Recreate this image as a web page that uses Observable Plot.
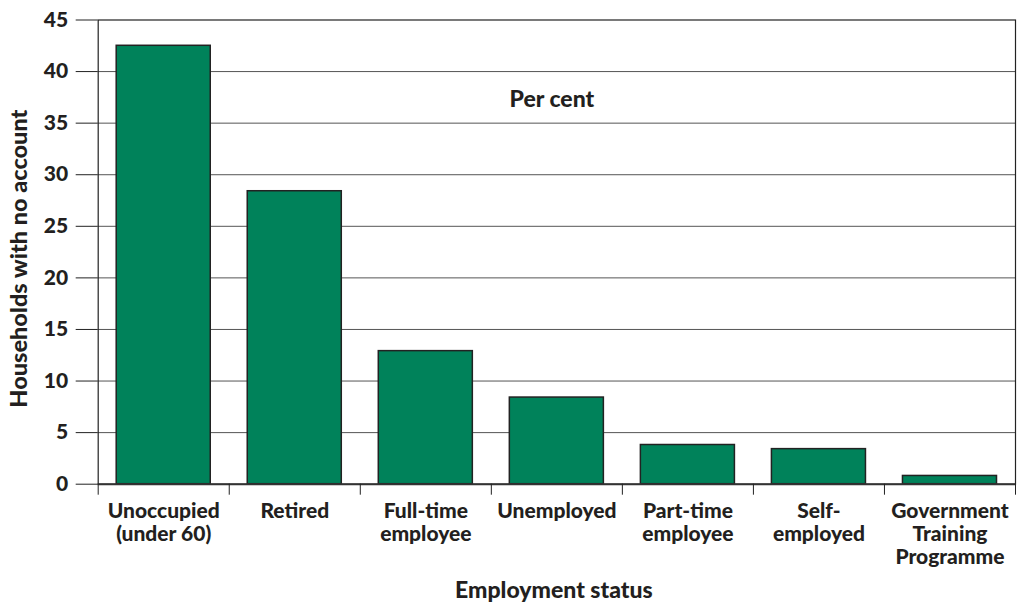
<!DOCTYPE html>
<html>
<head>
<meta charset="utf-8">
<script src="https://cdn.jsdelivr.net/npm/d3@7"></script>
<script src="https://cdn.jsdelivr.net/npm/@observablehq/plot@0.6"></script>
<style>
  html, body { margin: 0; padding: 0; background: #fff; }
  #chart svg { display: block; }
</style>
</head>
<body>
<div id="chart"></div>
<script>
const categories = [
  "Unoccupied\n(under 60)",
  "Retired",
  "Full-time\nemployee",
  "Unemployed",
  "Part-time\nemployee",
  "Self-\nemployed",
  "Government\nTraining\nProgramme"
];
const values = [42.5, 28.4, 12.9, 8.4, 3.8, 3.4, 0.8];
const yTicks = [0, 5, 10, 15, 20, 25, 30, 35, 40, 45];
const yTitle = "Households with no account";
const xTitle = "Employment status";
const unitLabel = "Per cent";

const data = categories.map((c, i) => ({ i, category: c, value: values[i] }));
const boundaries = d3.range(categories.length + 1);

const ink = "#231f20";
const font = "Lato, 'Open Sans', sans-serif";
const W = 900;

const chart = Plot.plot({
  width: 1022,
  height: 603,
  marginLeft: 97.7,
  marginRight: 7,
  marginTop: 19.5,
  marginBottom: 119.3,
  style: { fontFamily: font, color: ink, background: "#fff" },
  x: { domain: [0, categories.length], axis: null },
  y: { domain: [0, 45], axis: null },
  marks: [
    Plot.ruleY(yTicks.filter(d => d > 0 && d < 45), { stroke: "#555", strokeWidth: 1 }),
    Plot.rectY(data, {
      x1: "i", x2: d => d.i + 1, y: "value",
      insetLeft: 18.5, insetRight: 18.5,
      fill: "#00825a", stroke: "#222", strokeWidth: 1.5
    }),
    Plot.frame({ stroke: "#222", strokeWidth: 1.2 }),
    Plot.ruleY([0], { stroke: "#333", strokeWidth: 2 }),
    Plot.axisY({
      ticks: yTicks, tickSize: 22, tickPadding: 8,
      fontSize: 21, fontWeight: W, stroke: "#222", label: null,
      tickFormat: d3.format("d")
    }),
    Plot.axisX({
      ticks: boundaries, tickSize: 11, tickFormat: () => "", label: null, stroke: "#222"
    }),
    Plot.text(data, {
      x: d => d.i + 0.5, y: () => 0, text: "category",
      lineAnchor: "top", dy: 17, lineHeight: 1.1,
      fontSize: 21, fontWeight: W, fill: ink
    }),
    Plot.text([yTitle], {
      frameAnchor: "left", textAnchor: "middle", rotate: -90, dx: -79, dy: 6.5,
      fontSize: 23.5, fontWeight: W, fill: ink
    }),
    Plot.text([xTitle], {
      frameAnchor: "bottom", textAnchor: "middle", dx: -3, dy: 114,
      fontSize: 23, fontWeight: W, fill: ink
    }),
    Plot.text([unitLabel], {
      frameAnchor: "top", textAnchor: "middle", dx: -5, dy: 71,
      fontSize: 23, fontWeight: W, fill: ink
    })
  ]
});
document.getElementById("chart").append(chart);
</script>
</body>
</html>
